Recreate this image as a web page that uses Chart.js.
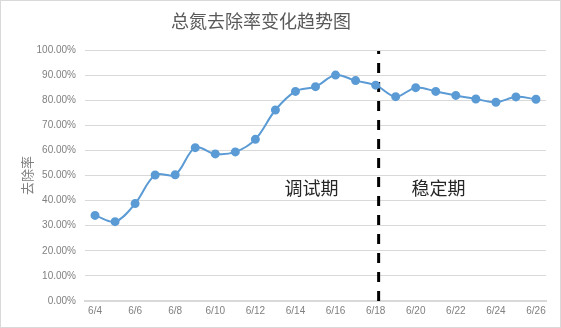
<!DOCTYPE html>
<html>
<head>
<meta charset="utf-8">
<script src="https://cdn.jsdelivr.net/npm/chart.js@4/dist/chart.umd.min.js"></script>
<style>
  html, body { margin: 0; padding: 0; background: #fff; }
  #wrap { position: relative; width: 561px; height: 328px; box-sizing: border-box; border: 1px solid #d9d9d9; }
  canvas { display: block; }
</style>
</head>
<body>
<div id="wrap"><canvas id="c" width="559" height="326"></canvas></div>
<script>
// 日期（每日一个采样点）
const dates = ['6/4','6/5','6/6','6/7','6/8','6/9','6/10','6/11','6/12','6/13','6/14','6/15',
               '6/16','6/17','6/18','6/19','6/20','6/21','6/22','6/23','6/24','6/25','6/26'];
// 总氮去除率 (%)
const removalRate = [34.1, 31.6, 38.8, 50.2, 50.3, 61.1, 58.6, 59.4, 64.4, 76.1, 83.5, 85.4,
                     90.0, 87.8, 86.0, 81.4, 85.0, 83.5, 81.9, 80.5, 79.2, 81.3, 80.4];
// 纵轴刻度
const yTicks = [0, 10, 20, 30, 40, 50, 60, 70, 80, 90, 100];
// 图表标题
const chartTitle = '总氮去除率变化趋势图';
// 阶段分界（以日期序号计）及阶段标注
const splitAt = 14.15;
const phaseLabels = [
  { text: '调试期', at: 10.8, value: 44.8 },
  { text: '稳定期', at: 17.14, value: 44.8 }
];

const tickFont = { family: "'Liberation Sans', 'DejaVu Sans', sans-serif", size: 10 };
const cjk = "'Noto Sans CJK SC', sans-serif";

// 标题、分界虚线与阶段文字
const phasePlugin = {
  id: 'phase',
  beforeDatasetsDraw(chart) {
    const { ctx, scales: { x, y } } = chart;
    const px = x.getPixelForValue(splitAt);
    ctx.save();
    ctx.strokeStyle = '#000';
    ctx.lineWidth = 3;
    ctx.setLineDash([10, 9]);
    ctx.beginPath();
    ctx.moveTo(px, y.getPixelForValue(0));
    ctx.lineTo(px, y.getPixelForValue(100) + 1);
    ctx.stroke();
    ctx.restore();
  },
  afterDatasetsDraw(chart) {
    const { ctx, scales: { x, y } } = chart;
    ctx.save();
    ctx.textAlign = 'center';
    ctx.textBaseline = 'middle';
    ctx.fillStyle = '#595959';
    ctx.font = '18px ' + cjk;
    ctx.fillText(chartTitle, 260, 20);
    ctx.fillStyle = '#262626';
    ctx.font = '18px ' + cjk;
    phaseLabels.forEach(p => {
      ctx.fillText(p.text, x.getPixelForValue(p.at), y.getPixelForValue(p.value));
    });
    ctx.restore();
  }
};

new Chart(document.getElementById('c'), {
  type: 'line',
  data: {
    labels: dates,
    datasets: [{
      data: removalRate,
      borderColor: '#5b9bd5',
      backgroundColor: '#5b9bd5',
      borderWidth: 2,
      pointRadius: 3.5,
      pointBackgroundColor: '#5b9bd5',
      pointBorderColor: '#5b9bd5',
      tension: 0.35,
      fill: false
    }]
  },
  options: {
    responsive: false,
    animation: false,
    layout: { padding: { left: 8, right: 14, top: 49, bottom: 0 } },
    plugins: {
      legend: { display: false },
      tooltip: { enabled: false },
      title: { display: false }
    },
    scales: {
      x: {
        offset: true,
        afterFit: s => { s.height = 26; },
        grid: { display: false, drawTicks: false },
        border: { color: '#d9d9d9', width: 2 },
        ticks: {
          autoSkip: false,
          maxRotation: 0,
          color: '#808080',
          font: tickFont,
          padding: 4,
          callback: (v, i) => (i % 2 === 0 ? dates[i] : '')
        }
      },
      y: {
        min: 0,
        max: 100,
        afterFit: s => { s.width = 76; },
        afterBuildTicks: s => { s.ticks = yTicks.map(v => ({ value: v })); },
        grid: { color: '#d9d9d9', drawTicks: false },
        border: { display: false },
        ticks: {
          color: '#808080',
          font: tickFont,
          padding: 9,
          callback: v => v.toFixed(2) + '%'
        },
        title: {
          display: true,
          text: '去除率',
          color: '#7f7f7f',
          font: { family: cjk, size: 13 },
          padding: { top: 10, bottom: 0 }
        }
      }
    }
  },
  plugins: [phasePlugin]
});
</script>
</body>
</html>
